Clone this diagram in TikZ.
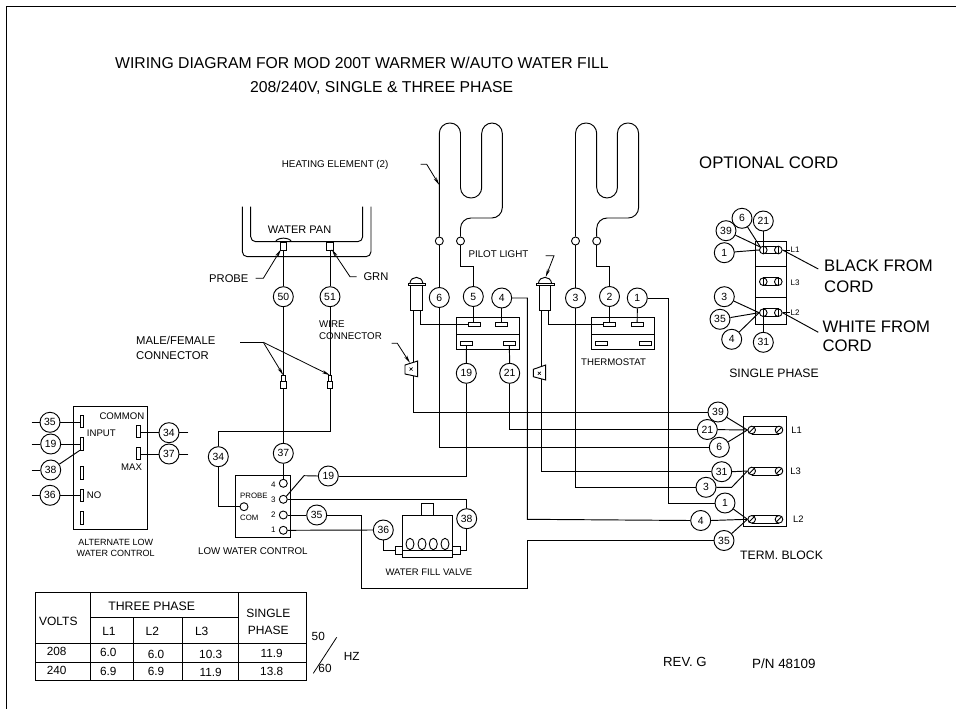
\documentclass[tikz,border=0pt]{standalone}
\usepackage{fontspec}
\setmainfont{Liberation Sans}
\usetikzlibrary{arrows.meta,shapes.geometric}
\newcommand{\fsz}[1]{\fontsize{#1}{#1}\selectfont}
\tikzset{
  wire/.style={line width=0.95pt},
  lead/.style={line width=0.8pt,-{Stealth[length=8pt,width=3.2pt]}},
  num/.style={circle,draw,line width=0.95pt,fill=white,minimum size=20pt,inner sep=0pt,font=\fsz{10.4}},
  port/.style={circle,draw,line width=0.9pt,fill=white,minimum size=8pt,inner sep=0pt},
  screw/.style={circle,draw,line width=0.9pt,fill=white,minimum size=7.6pt,inner sep=0pt},
  tab/.style={rectangle,draw,line width=0.8pt,fill=white,inner sep=0pt,minimum width=12pt,minimum height=4pt},
  vtab/.style={rectangle,draw,line width=0.8pt,fill=white,inner sep=0pt,minimum width=3.4pt,minimum height=12.4pt},
  lbl/.style={inner sep=0pt,anchor=west},
  ctr/.style={inner sep=0pt,anchor=center},
  bodybox/.style={rectangle,draw,line width=0.95pt,inner sep=0pt},
}
\newcommand{\slashscrew}[3]{\node[screw] (#1) at (#2,#3) {}; \draw[line width=0.9pt] (#1.south west) -- (#1.north east);}
\newcommand{\barscrew}[3]{\node[screw] (#1) at (#2,#3) {}; \draw[line width=0.9pt] (#1.south) -- (#1.north);}
\begin{document}
\begin{tikzpicture}[x=1pt,y=-1pt]
\useasboundingbox (0,0) rectangle (956,709);
% frame
\coordinate (fa) at (956,6.5); \coordinate (fb) at (6.5,6.5); \coordinate (fc) at (6.5,709);
\draw[line width=1pt] (fa) -- (fb) -- (fc);
% titles
\node[lbl,font=\fsz{15.75}] (t1) at (115,63) {WIRING DIAGRAM FOR MOD 200T WARMER W/AUTO WATER FILL};
\node[lbl,font=\fsz{15.75}] (t2) at (250,87.5) {208/240V, SINGLE \& THREE PHASE};
\node[lbl,font=\fsz{16.8}] (t3) at (699,163) {OPTIONAL CORD};
\node[lbl,font=\fsz{9.8}] (t4) at (281.7,165) {HEATING ELEMENT (2)};
\node[lbl,font=\fsz{11}] (t5) at (267.7,229.5) {WATER PAN};
\node[lbl,font=\fsz{11.2}] (t6) at (209,278.5) {PROBE};
\node[lbl,font=\fsz{11.2}] (t7) at (363.3,276.7) {GRN};
\node[lbl,font=\fsz{9.8}] (t8) at (468.3,254) {PILOT LIGHT};
\node[lbl,font=\fsz{9.6}] (t9) at (581,361.7) {THERMOSTAT};
\node[lbl,font=\fsz{11.3}] (t10) at (136,340.7) {MALE/FEMALE};
\node[lbl,font=\fsz{11.3}] (t11) at (136,355.7) {CONNECTOR};
\node[lbl,font=\fsz{9.75}] (t12) at (319,324) {WIRE};
\node[lbl,font=\fsz{9.75}] (t13) at (319,336) {CONNECTOR};
\node[lbl,font=\fsz{16.7}] (t14) at (824,265.7) {BLACK FROM};
\node[lbl,font=\fsz{16.7}] (t15) at (824,286.7) {CORD};
\node[lbl,font=\fsz{16.7}] (t16) at (822.3,326.7) {WHITE FROM};
\node[lbl,font=\fsz{16.7}] (t17) at (822.3,346) {CORD};
\node[ctr,font=\fsz{12.2}] (t18) at (774,373.3) {SINGLE PHASE};
\node[lbl,font=\fsz{12.2}] (t19) at (740,555.7) {TERM. BLOCK};
\node[lbl,font=\fsz{9.5}] (t20) at (385.3,572.3) {WATER FILL VALVE};
\node[lbl,font=\fsz{9.75}] (t21) at (198,551) {LOW WATER CONTROL};
\node[ctr,font=\fsz{9}] (t22) at (115.7,542.3) {ALTERNATE LOW};
\node[ctr,font=\fsz{9}] (t23) at (115.7,553.3) {WATER CONTROL};
\node[lbl,font=\fsz{13.2}] (t24) at (663,662) {REV. G};
\node[lbl,font=\fsz{13.4}] (t25) at (752,664) {P/N 48109};
% heating elements
\node[port] (ha) at (439.3,241) {};
\node[port] (hb) at (460.5,241) {};
\node[port] (hc) at (575.5,241) {};
\node[port] (hd) at (596.7,241) {};
\draw[wire,rounded corners=10.4pt] (ha.north) -- (439.3,123) -- (460.5,123) -- (460.5,198) -- (481.7,198) -- (481.7,123) -- (502.3,123) -- (502.3,218) -- (460.5,218) -- (hb.north);
\draw[wire,rounded corners=10.4pt] (hc.north) -- (575.5,123) -- (596.7,123) -- (596.7,198) -- (617.4,198) -- (617.4,123) -- (638.6,123) -- (638.6,218) -- (596.7,218) -- (hd.north);
\coordinate (hl1) at (420.7,164.3); \coordinate (hl2) at (426.7,164.3); \coordinate (hl3) at (439.3,185);
\draw[lead] (hl1) -- (hl2) -- (hl3);
% water pan
\coordinate (pa) at (242.3,206.7); \coordinate (pb) at (371,206.7);
\coordinate (pc) at (250.7,206.7); \coordinate (pd) at (362.7,206.7);
\draw[wire,rounded corners=5pt] (pa) -- (242.3,256.7) -- (371,256.7) -- (pb);
\draw[wire,rounded corners=5pt] (pc) -- (250.7,241.7) -- (362.7,241.7) -- (pd);
\draw[wire] (275.5,241.7) .. controls (277.5,237) and (289.5,237) .. (291.5,241.7);
\node[bodybox,fill=white,minimum width=6.6pt,minimum height=7.6pt] (prb) at (283.3,246.2) {};
\node[bodybox,fill=white,minimum width=6.4pt,minimum height=7.6pt] (grn) at (330,246.2) {};
\coordinate (pl1) at (255.7,278.3); \coordinate (pl2) at (263.3,278.3); \coordinate (pl3) at (281,249.3);
\draw[lead] (pl1) -- (pl2) -- (pl3);
\coordinate (gl1) at (356.7,276.7); \coordinate (gl2) at (350,276.7); \coordinate (gl3) at (331.7,249.3);
\draw[lead] (gl1) -- (gl2) -- (gl3);
% numbered circles, main part
\node[num] (n50) at (283.3,296.7) {50};
\node[num] (n51) at (330,296.7) {51};
\node[num] (n6) at (439.3,297.5) {6};
\node[num] (n5) at (473.3,296.5) {5};
\node[num] (n4) at (501.7,298) {4};
\node[num] (n3) at (575.5,298) {3};
\node[num] (n2) at (609.5,296.5) {2};
\node[num] (n1) at (637.3,298) {1};
\node[num] (n19) at (466.3,373.3) {19};
\node[num] (n21) at (509.7,373.3) {21};
\node[num] (n37) at (283.3,453.3) {37};
\node[num] (n34) at (218.3,456.7) {34};
\node[num] (nb19) at (328.3,476) {19};
\node[num] (nb35) at (316.7,515) {35};
\node[num] (nb36) at (383.3,530) {36};
\node[num] (nb38) at (466.7,518.7) {38};
\node[num] (r39) at (718,412) {39};
\node[num] (r21) at (707.3,429.5) {21};
\node[num] (r6) at (719.3,447.3) {6};
\node[num] (r31) at (721.7,471.7) {31};
\node[num] (r3) at (706,487.3) {3};
\node[num] (r1) at (725,503) {1};
\node[num] (r4) at (700.7,520.5) {4};
\node[num] (r35) at (724,540.5) {35};
% links heating to circles
\draw[wire] (ha.south) -- (n6.north);
\draw[wire] (hc.south) -- (n3.north);
\draw[wire] (hb.south) -- (460.5,266.7) -- (473.3,266.7) -- (n5.north);
\draw[wire] (hd.south) -- (596.7,266.7) -- (609.5,266.7) -- (n2.north);
\draw[wire] (prb.south) -- (n50.north);
\draw[wire] (grn.south) -- (n51.north);
% switch box and thermostat
\node[bodybox,minimum width=62.6pt,minimum height=31.3pt] (sw) at (488,333.6) {};
\node[bodybox,minimum width=63.3pt,minimum height=31.3pt] (th) at (623.3,333.6) {};
\draw[wire] (456.7,334) -- (519.3,334);
\draw[wire] (591.7,334) -- (655,334);
\node[tab] (sa) at (474.2,324.3) {};
\node[tab] (sb) at (501.7,324.3) {};
\node[tab] (sc) at (466.5,343.7) {};
\node[tab] (sd) at (509.3,343.7) {};
\node[tab] (ta) at (609.5,324.3) {};
\node[tab] (tb) at (637.2,324.3) {};
\node[tab] (tc) at (601.7,343.7) {};
\node[tab] (td) at (645,343.7) {};
\draw[wire] (n5.south) -- (473.3,322.3);
\draw[wire] (n4.south) -- (sb.north);
\draw[wire] (n2.south) -- (ta.north);
\draw[wire] (n1.south) -- (tb.north);
\draw[wire] (sc.south) -- (n19.north);
\draw[wire] (sd.south) -- (n21.north);
% pilot lights
\node[bodybox,minimum width=11.4pt,minimum height=25pt] (la) at (416.4,297.5) {};
\node[bodybox,minimum width=11.4pt,minimum height=25pt] (lb) at (545,297.5) {};
\draw[wire] (408,283) -- (408,285.5) -- (425,285.5) -- (425,283) -- cycle;
\draw[wire] (536,283) -- (536,285.5) -- (554.3,285.5) -- (554.3,283) -- cycle;
\draw[wire] (410,283) .. controls (411,275.5) and (421.8,275.5) .. (422.8,283);
\draw[wire] (538.5,283) .. controls (539.5,275.5) and (550.5,275.5) .. (551.5,283);
\coordinate (lap) at (413.7,310); \coordinate (laq) at (420,310);
\coordinate (lbp) at (541,310); \coordinate (lbq) at (548.3,310);
\draw[wire] (laq) |- (sa.west);
\draw[wire] (lbq) |- (ta.west);
\coordinate (ll1) at (545.7,255.7); \coordinate (ll2) at (554,255.7); \coordinate (ll3) at (545.7,277);
\draw[lead] (ll1) -- (ll2) -- (ll3);
% long wires to terminal block
\draw[wire] (lap) |- (r39.west);
\draw[wire] (n6.south) |- (r6.west);
\draw[wire] (n21.south) |- (r21.west);
\draw[wire] (n4.east) -| (527.3,519.3) -- (r4.west);
\draw[wire] (lbp) |- (r31.west);
\draw[wire] (n3.south) |- (r3.west);
\draw[wire] (n1.east) -| (668.7,503) -- (r1.west);
% inline wire connectors
\draw[wire,fill=white] (405,365) -- (417.7,361) -- (417.7,376.7) -- (405,374) -- cycle;
\draw[line width=0.7pt] (409.5,367.5) -- (412.5,370.5) (409.5,370.5) -- (412.5,367.5);
\draw[wire,fill=white] (533.3,369.3) -- (545.7,365) -- (545.7,380) -- (533.3,376.7) -- cycle;
\draw[line width=0.7pt] (537.8,371.8) -- (540.8,374.8) (537.8,374.8) -- (540.8,371.8);
\coordinate (wl1) at (391.7,343.3); \coordinate (wl2) at (397.3,343.3); \coordinate (wl3) at (410,363);
\draw[lead] (wl1) -- (wl2) -- (wl3);
% male/female connectors
\draw[wire] (n50.south) -- (n37.north);
\coordinate (c34) at (330,431);
\draw[wire] (n51.south) -- (c34) -| (n34.north);
\node[bodybox,fill=white,minimum width=3.4pt,minimum height=6pt] (ma) at (283.3,378.7) {};
\node[bodybox,fill=white,minimum width=5.4pt,minimum height=6.6pt] (mb) at (283.3,385) {};
\node[bodybox,fill=white,minimum width=3.4pt,minimum height=6pt] (mc) at (330,378.7) {};
\node[bodybox,fill=white,minimum width=5.4pt,minimum height=6.6pt] (md) at (330,385) {};
\coordinate (ml1) at (240,342.3); \coordinate (ml2) at (263.3,342.3);
\draw[line width=0.8pt] (ml1) -- (ml2);
\draw[lead] (ml2) -- (ma.north);
\draw[lead] (ml2) -- (mc.north);
% low water control
\node[bodybox,minimum width=54.7pt,minimum height=62pt] (lwc) at (263.3,506.7) {};
\node[port] (p4) at (283.3,483.3) {};
\node[port] (p3) at (283.3,499.3) {};
\node[port] (p2) at (283.3,515) {};
\node[port] (p1) at (283.3,530.3) {};
\node[port] (pc1) at (244,506.7) {};
\node[ctr,font=\fsz{8}] (d4) at (273.3,485) {4};
\node[ctr,font=\fsz{8}] (d3) at (273.3,499.5) {3};
\node[ctr,font=\fsz{8}] (d2) at (273.3,515) {2};
\node[ctr,font=\fsz{8}] (d1) at (273.3,530) {1};
\node[lbl,font=\fsz{7.8}] (tp) at (240,496) {PROBE};
\node[lbl,font=\fsz{7.8}] (tc1) at (240,517.7) {COM};
\draw[wire] (n37.south) -- (p4.north);
\draw[wire] (n34.south) |- (pc1.west);
\coordinate (k19) at (304,475.7);
\draw[wire] (p3.north east) -- (k19) -- (nb19.west);
\draw[wire] (nb19.east) -| (n19.south);
\draw[wire] (p3.east) -| (nb38.north);
\draw[wire] (p2.east) -- (nb35.west);
\draw[wire] (p1.east) -- (nb36.west);
% valve
\node[bodybox,minimum width=50.4pt,minimum height=42.3pt] (vb) at (427.5,536.2) {};
\node[bodybox,minimum width=11.6pt,minimum height=11.7pt] (vt) at (427.5,509.2) {};
\node[bodybox,fill=white,minimum width=6.6pt,minimum height=8pt] (vl) at (399,550) {};
\node[bodybox,fill=white,minimum width=8pt,minimum height=8pt] (vr) at (456.7,550) {};
\draw[wire] (402.3,550) -- (452.7,550);
\foreach \i/\x in {a/410,b/422,c/433.3,d/445}{\node[ellipse,draw,line width=0.9pt,inner sep=0pt,minimum width=8pt,minimum height=11.4pt] (e\i) at (\x,544) {};}
\draw[wire] (nb36.south) |- (vl.west);
\draw[wire] (nb38.south) |- (vr.east);
\coordinate (w1) at (361.7,588.3); \coordinate (w2) at (527.3,540.5);
\draw[wire] (nb35.east) -| (w1) -| (w2) -- (r35.west);
% terminal block
\node[bodybox,minimum width=43pt,minimum height=110pt] (tbk) at (765.2,471) {};
\foreach \y in {430,471,519.3}{\draw[wire] (751.7,\y-4) -- (779,\y-4) (751.7,\y+4) -- (779,\y+4);}
\slashscrew{ta1}{751.7}{430}\slashscrew{ta2}{779}{430}
\slashscrew{tb1}{751.7}{471}\slashscrew{tb2}{779}{471}
\slashscrew{tc1s}{751.7}{519.3}\slashscrew{tc2}{779}{519.3}
\draw[wire] (r39) -- (ta1.west);
\draw[wire] (r21) -- (ta1.west);
\draw[wire] (r6) -- (ta1.west);
\draw[wire] (r31.east) -- (tb1.west);
\coordinate (k3) at (731.7,487.3);
\draw[wire] (r3.east) -- (k3) -- (tb1.west);
\draw[wire] (r1) -- (tc1s.west);
\draw[wire] (r4.east) -- (tc1s.west);
\draw[wire] (r35) -- (tc1s.west);
\node[ctr,font=\fsz{9.4}] (lb1) at (796.7,430) {L1};
\node[ctr,font=\fsz{9.4}] (lb3) at (795.7,471.7) {L3};
\node[ctr,font=\fsz{9.4}] (lb2) at (798.3,519) {L2};
% single phase
\node[bodybox,minimum width=31.4pt,minimum height=83pt] (spb) at (771,283.2) {};
\coordinate (sl) at (755.3,266); \coordinate (sr) at (786.7,266);
\coordinate (sm) at (755.3,297.7); \coordinate (sn) at (786.7,297.7);
\draw[wire] (sl) -- (sr) (sm) -- (sn);
\foreach \y in {250,281.7,312.7}{\draw[wire] (763.3,\y-3.8) -- (778.3,\y-3.8) (763.3,\y+3.8) -- (778.3,\y+3.8);}
\barscrew{q1a}{763.3}{250}\barscrew{q1b}{778.3}{250}
\barscrew{q2a}{763.3}{281.7}\barscrew{q2b}{778.3}{281.7}
\barscrew{q3a}{763.3}{312.7}\barscrew{q3b}{778.3}{312.7}
\node[num] (s6) at (742,218.3) {6};
\node[num] (s21) at (763.3,221) {21};
\node[num] (s39) at (726,230.7) {39};
\node[num] (s1) at (724.3,252.7) {1};
\node[num] (s3) at (724.3,296.7) {3};
\node[num] (s35) at (720,319.3) {35};
\node[num] (s4) at (731.7,339.3) {4};
\node[num] (s31) at (763.3,342.3) {31};
\draw[wire] (s6) -- (q1a.north west);
\draw[wire] (s21.south) -- (q1a.north);
\draw[wire] (s39) -- (q1a.north west);
\draw[wire] (s1) -- (q1a.west);
\draw[wire] (s3) -- (q3a.west);
\draw[wire] (s35) -- (q3a.west);
\draw[wire] (s4) -- (q3a.west);
\draw[wire] (s31.north) -- (q3a.south);
\coordinate (bk) at (818.3,269); \coordinate (wh) at (818.3,332.3);
\draw[wire] (q1b.east) -- (bk);
\draw[wire] (q3b.east) -- (wh);
\coordinate (st1) at (789.5,250); \coordinate (st2) at (789.5,312.7);
\draw[line width=0.6pt] (q1b.east) -- (st1);
\draw[line width=0.6pt] (q3b.east) -- (st2);
\node[lbl,font=\fsz{8}] (sl1) at (790.5,250) {L1};
\node[lbl,font=\fsz{8}] (sl3) at (790.5,282.5) {L3};
\node[lbl,font=\fsz{8}] (sl2) at (790.5,312.7) {L2};
% alternate control
\node[bodybox,minimum width=74pt,minimum height=123.3pt] (alt) at (110.3,468.3) {};
\node[vtab] (v1) at (82,421.2) {};
\node[vtab] (v2) at (82,443.7) {};
\node[vtab] (v3) at (82,473) {};
\node[vtab] (v4) at (82,495.3) {};
\node[vtab] (v5) at (82,517.8) {};
\node[vtab] (v6) at (138.5,431.3) {};
\node[vtab] (v7) at (138.5,453.3) {};
\node[num] (a35) at (50,422.3) {35};
\node[num] (a19) at (50.7,444) {19};
\node[num] (a38) at (50.7,470) {38};
\node[num] (a36) at (50,495.3) {36};
\node[num] (a34) at (169,432.7) {34};
\node[num] (a37) at (169,454) {37};
\coordinate (e35) at (31.7,422.3); \coordinate (e19) at (31.7,444);
\coordinate (e38) at (31.7,470); \coordinate (e36) at (31.7,495.3);
\coordinate (e34) at (188.3,432.7); \coordinate (e37) at (188.3,454);
\draw[wire] (e35) -- (a35) (e19) -- (a19) (e38) -- (a38) (e36) -- (a36) (e34) -- (a34) (e37) -- (a37);
\draw[wire] (a35.east) -- (v1.west |- a35.east);
\draw[wire] (a19.east) -- (v2.west |- a19.east);
\draw[wire] (a38) -- (v2.south west);
\draw[wire] (a36.east) -- (v4.west);
\draw[wire] (a34.west) -- (v6.east |- a34.west);
\draw[wire] (a37.west) -- (v7.east |- a37.west);
\node[lbl,font=\fsz{9.6}] (x1) at (99.3,415.7) {COMMON};
\node[lbl,font=\fsz{9.6}] (x2) at (86.7,433.3) {INPUT};
\node[lbl,font=\fsz{9.6}] (x3) at (121,467.3) {MAX};
\node[lbl,font=\fsz{9.6}] (x4) at (86.7,495.3) {NO};
% table
\coordinate (ga) at (35.7,592.7); \coordinate (gb) at (306,680);
\draw[line width=1pt] (ga) rectangle (gb);
\draw[line width=0.9pt] (90,592.7) -- (90,680) (238.3,592.7) -- (238.3,680)
  (133.3,617.3) -- (133.3,680) (182.7,617.3) -- (182.7,680)
  (90,617.3) -- (238.3,617.3) (35.7,643.3) -- (306,643.3) (35.7,662.3) -- (306,662.3);
\node[ctr,font=\fsz{12}] (c1) at (58.3,621.7) {VOLTS};
\node[ctr,font=\fsz{12.3}] (c2) at (151.7,606) {THREE PHASE};
\node[ctr,font=\fsz{12}] (c3) at (268.3,613.3) {SINGLE};
\node[ctr,font=\fsz{12}] (c4) at (268.3,630) {PHASE};
\node[ctr,font=\fsz{12}] (c5) at (109,631.7) {L1};
\node[ctr,font=\fsz{12}] (c6) at (152.3,631.7) {L2};
\node[ctr,font=\fsz{12}] (c7) at (201.7,631.7) {L3};
\node[ctr,font=\fsz{11.8}] (c8) at (56.7,651) {208};
\node[ctr,font=\fsz{11.8}] (c9) at (108.3,652.7) {6.0};
\node[ctr,font=\fsz{11.8}] (c10) at (156,654) {6.0};
\node[ctr,font=\fsz{11.8}] (c11) at (210.7,654) {10.3};
\node[ctr,font=\fsz{11.8}] (c12) at (271.7,653) {11.9};
\node[ctr,font=\fsz{11.8}] (c13) at (56.7,670) {240};
\node[ctr,font=\fsz{11.8}] (c14) at (108.3,671) {6.9};
\node[ctr,font=\fsz{11.8}] (c15) at (156,671) {6.9};
\node[ctr,font=\fsz{11.8}] (c16) at (210.7,672) {11.9};
\node[ctr,font=\fsz{11.8}] (c17) at (271.7,671) {13.8};
\node[ctr,font=\fsz{11.8}] (c18) at (318.3,636.7) {50};
\node[ctr,font=\fsz{11.8}] (c19) at (325,668.3) {60};
\node[ctr,font=\fsz{11.8}] (c20) at (351.7,656) {HZ};
\coordinate (hz1) at (313.3,673.3); \coordinate (hz2) at (336.7,637.3);
\draw[line width=0.8pt] (hz1) -- (hz2);
\end{tikzpicture}
\end{document}
